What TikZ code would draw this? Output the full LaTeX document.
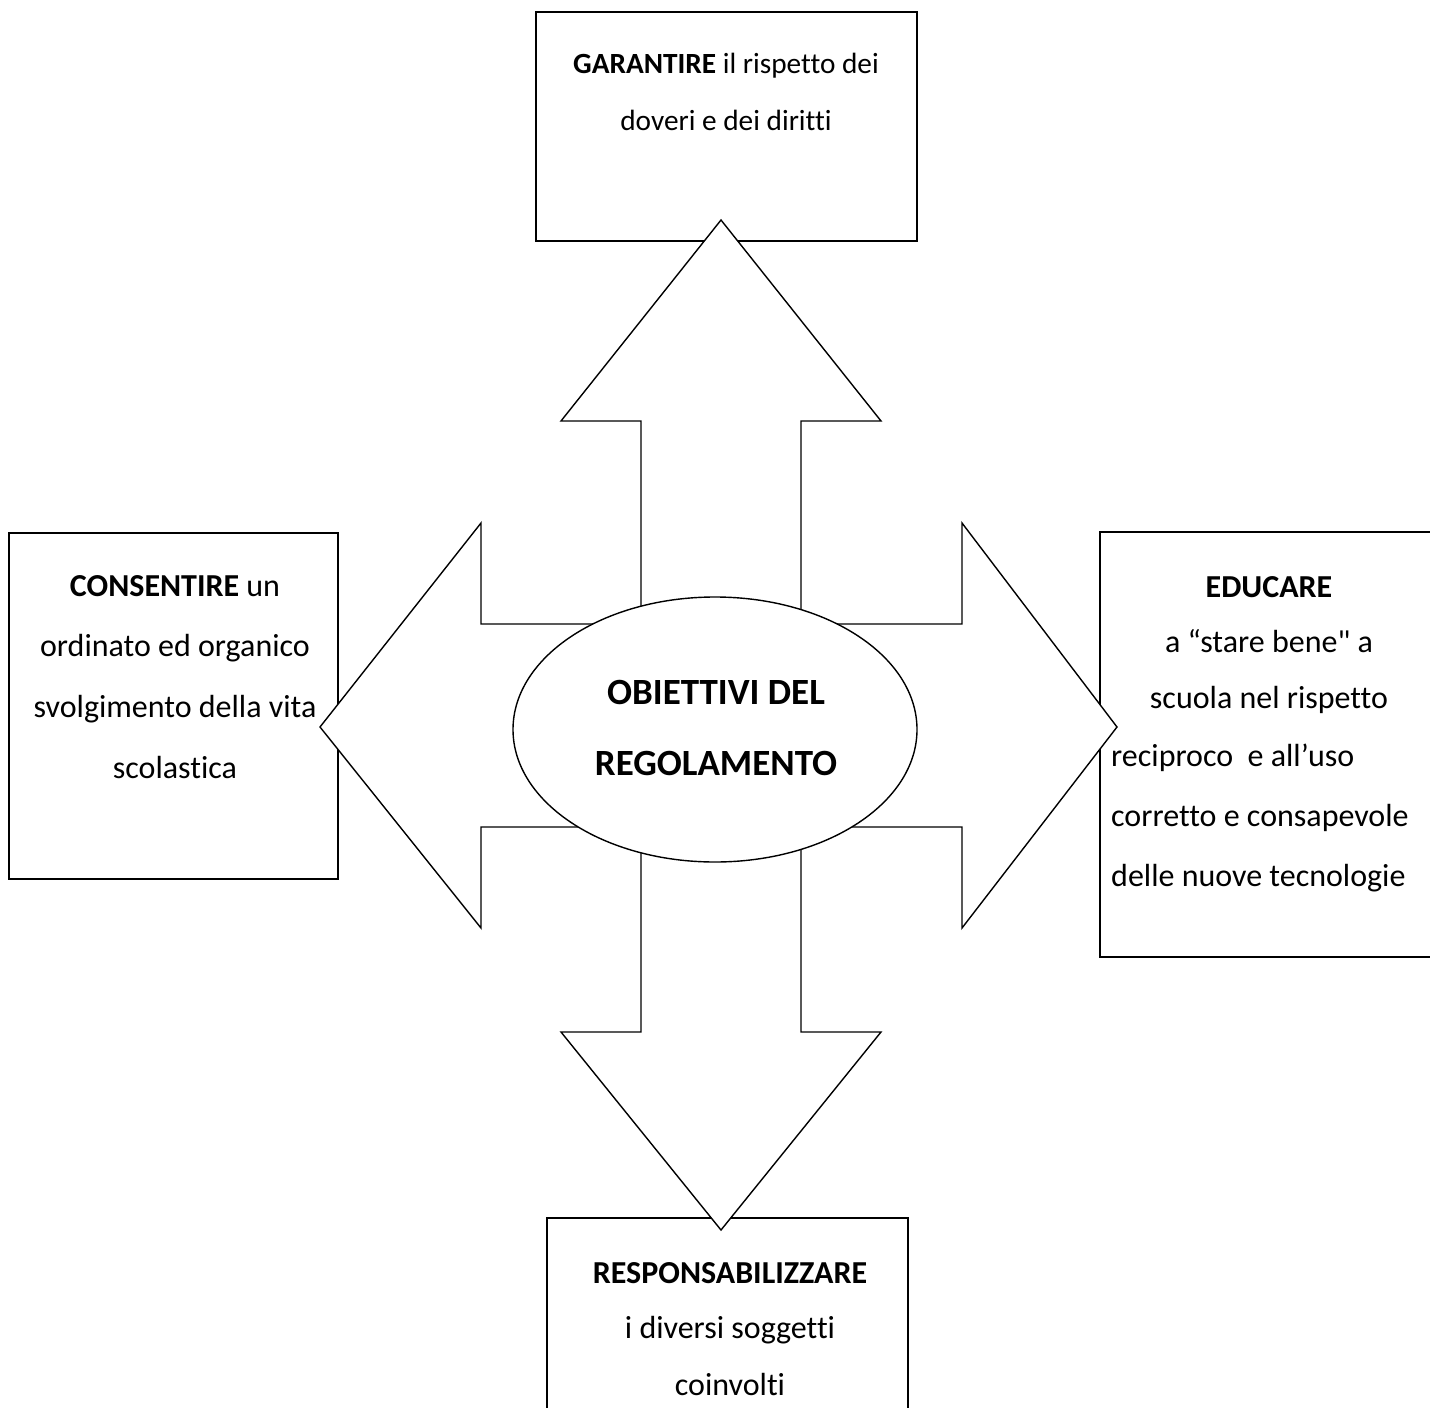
\documentclass[tikz,border=0pt]{standalone}
\usepackage{fontspec}
\setmainfont{Carlito}[Ligatures={TeXOff,NoCommon}]
\usetikzlibrary{shapes.geometric}
\begin{document}
\begin{tikzpicture}[x=1pt,y=-1pt,
  box/.style={draw, line width=1.4pt, rectangle, inner sep=0pt},
  txt/.style={font=\fontsize{32}{38}\selectfont, inner sep=0pt, anchor=base},
  toptxt/.style={txt, font=\fontsize{29.3}{35}\selectfont},
  txtl/.style={txt, anchor=base west},
  bigtxt/.style={font=\fontsize{37}{44}\selectfont\bfseries, inner sep=0pt, anchor=base}]
\useasboundingbox (0,0) rectangle (1430,1408);
% boxes
\node[box, minimum width=381pt, minimum height=229pt] (boxT) at (726.5,126.5) {};
\node[box, minimum width=329pt, minimum height=346pt] (boxL) at (173.5,706) {};
\node[box, minimum width=340pt, minimum height=425pt] (boxR) at (1270,744.5) {};
\node[box, minimum width=361pt, minimum height=202pt] (boxB) at (727.5,1319) {};
% four-way arrow
\draw[line width=1.4pt, fill=white, line join=miter]
  (721,220) -- (881,421) -- (801,421) -- (801,624) -- (962,624) -- (962,523)
  -- (1117,727) -- (962,928) -- (962,827) -- (801,827) -- (801,1032)
  -- (881,1032) -- (721,1230) -- (561,1032) -- (641,1032) -- (641,827)
  -- (481,827) -- (481,928) -- (320,727) -- (481,523) -- (481,624)
  -- (641,624) -- (641,421) -- (561,421) -- cycle;
% central ellipse
\node[ellipse, draw, line width=1.4pt, fill=white, minimum width=404pt, minimum height=265pt, inner sep=0pt] (center) at (715,729.5) {};
\node[bigtxt] (c1) at (716,704) {OBIETTIVI DEL};
\node[bigtxt] (c2) at (716,775) {REGOLAMENTO};
% top box text
\node[toptxt] (t1) at (726,73) {\textbf{GARANTIRE} il rispetto dei};
\node[toptxt] (t2) at (726,130) {doveri e dei diritti};
% left box text
\node[txt] (l1) at (175,596) {\textbf{CONSENTIRE} un};
\node[txt] (l2) at (175,656) {ordinato ed organico};
\node[txt] (l3) at (175,717) {svolgimento della vita};
\node[txt] (l4) at (175,778) {scolastica};
% right box text
\node[txt] (r1) at (1269,597) {\textbf{EDUCARE}};
\node[txt] (r2) at (1269,652) {a “stare bene" a};
\node[txt] (r3) at (1269,708) {scuola nel rispetto};
\node[txtl] (r4) at (1111,766) {reciproco\ \ e all’uso};
\node[txtl] (r5) at (1111,826) {corretto e consapevole};
\node[txtl] (r6) at (1111,886) {delle nuove tecnologie};
% bottom box text
\node[txt] (b1) at (730,1283) {\textbf{RESPONSABILIZZARE}};
\node[txt] (b2) at (730,1338) {i diversi soggetti};
\node[txt] (b3) at (730,1395) {coinvolti};
\end{tikzpicture}
\end{document}
